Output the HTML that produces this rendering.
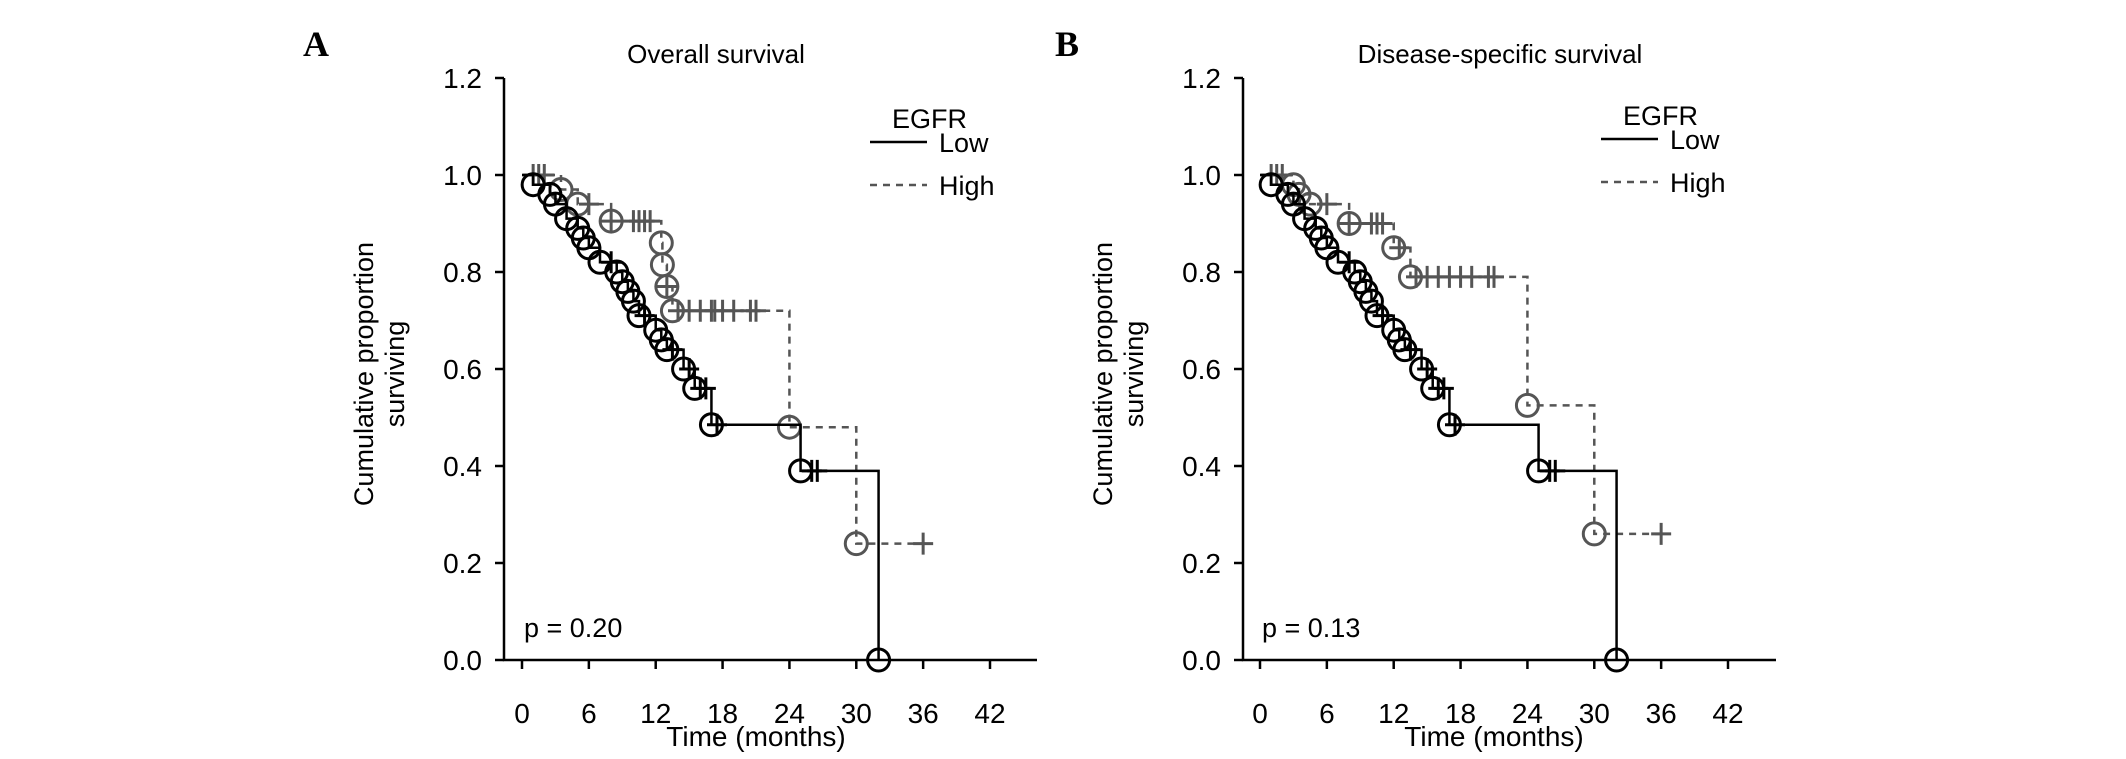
<!DOCTYPE html>
<html><head><meta charset="utf-8">
<style>
html,body{margin:0;padding:0;background:#fff;}
svg{display:block;}
</style></head>
<body>
<svg id="fig" width="2126" height="759" viewBox="0 0 2126 759" xmlns="http://www.w3.org/2000/svg" font-family="Liberation Sans, Arial, sans-serif"></svg>
<script>
// ---- Panel A: overall survival ----
const lowA_times  = [1,2.5,3,4,5,5.5,6,7,8.5,9,9.5,10,10.5,12,12.5,13,14.5,15.5,17,25,32];
const lowA_surv   = [0.98,0.96,0.94,0.91,0.89,0.87,0.85,0.82,0.80,0.78,0.76,0.74,0.71,0.68,0.66,0.64,0.60,0.56,0.485,0.39,0.0];
const lowA_cens   = [8,11,13.5,15,16,16.5,17.5,26,26.5];
const highA_times = [3.5,5,8,12.5,12.6,13,13.5,24,30];
const highA_surv  = [0.97,0.94,0.905,0.86,0.815,0.77,0.72,0.48,0.24];
const highA_cens  = [1,1.5,2,6,8,10,10.5,11,11.5,13,14,15,16,17,17.3,18,19,20.5,21,36];
// ---- Panel B: disease-specific survival ----
const lowB_times  = [1,2.5,3,4,5,5.5,6,7,8.5,9,9.5,10,10.5,12,12.5,13,14.5,15.5,17,25,32];
const lowB_surv   = [0.98,0.96,0.94,0.91,0.89,0.87,0.85,0.82,0.80,0.78,0.76,0.74,0.71,0.68,0.66,0.64,0.60,0.56,0.485,0.39,0.0];
const lowB_cens   = [8,11,13.5,15,16,16.5,17.5,26,26.5];
const highB_times = [3,3.5,4.5,8,12,13.5,24,30];
const highB_surv  = [0.98,0.96,0.94,0.90,0.85,0.79,0.525,0.26];
const highB_cens  = [1,1.5,2,6,8,10,10.5,11,12.5,14,15,16,17,18,19,20.5,21,36];
const xTicks = [0,6,12,18,24,30,36,42];
const yTicks = [0.0,0.2,0.4,0.6,0.8,1.0,1.2];

const NS="http://www.w3.org/2000/svg";
const svg=document.getElementById('fig');
const Y0=660, Y12=78;
function el(tag,attrs,parent){const e=document.createElementNS(NS,tag);for(const k in attrs)e.setAttribute(k,attrs[k]);(parent||svg).appendChild(e);return e;}

function panel(cfg){
  const g=el('g',{});
  
  
  const X=t=>cfg.x0+(cfg.x42-cfg.x0)*t/42;
  const Y=s=>Y0-(Y0-Y12)*s/1.2;
  const ax=el('path',{d:`M${cfg.axX} ${Y12} V${Y0} H${cfg.axR}`,stroke:'#000','stroke-width':2.5,fill:'none'},g);
  
  
  yTicks.forEach(v=>{
    el('line',{x1:cfg.axX-9,x2:cfg.axX,y1:Y(v),y2:Y(v),stroke:'#000','stroke-width':2.5},g);
    const t=el('text',{x:cfg.axX-22,y:Y(v)+10,'text-anchor':'end','font-size':28},g);
    t.textContent=v.toFixed(1);
    
    
  });
  xTicks.forEach(v=>{
    el('line',{x1:X(v),x2:X(v),y1:Y0,y2:Y0+9,stroke:'#000','stroke-width':2.5},g);
    const t=el('text',{x:X(v),y:723,'text-anchor':'middle','font-size':28},g);
    t.textContent=v;
    
    
  });
  const xl=el('text',{x:(X(0)+X(42))/2,y:746,'text-anchor':'middle','font-size':28},g);
  xl.textContent='Time (months)';
  
  
  const yl=el('text',{transform:`translate(${cfg.axX-131},${cfg.ylY}) rotate(-90)`,'text-anchor':'middle','font-size':27},g);
  
  
  const t1=el('tspan',{x:0,y:0},yl);t1.textContent='Cumulative proportion';
  const t2=el('tspan',{x:0,y:31},yl);t2.textContent='surviving';
  const tt=el('text',{x:cfg.titleX,y:63,'text-anchor':'middle','font-size':26},g);
  tt.textContent=cfg.title;
  
  
  const pl=el('text',{x:X(0)+2,y:637,'font-size':27},g);
  pl.textContent=cfg.p;
  
  
  const lab=el('text',{x:cfg.labX,y:56,'font-size':36,'font-weight':'bold','font-family':'Liberation Serif, serif'},svg);
  lab.textContent=cfg.label;
  
  
  const lg=el('g',{},g);
  
  
  const lx=cfg.legX, ly=cfg.legY;
  const le=el('text',{x:lx+22,y:ly,'font-size':27},lg);le.textContent='EGFR';
  el('line',{x1:lx,x2:lx+57,y1:ly+14,y2:ly+14,stroke:'#000','stroke-width':2.5},lg);
  const lo=el('text',{x:lx+69,y:ly+24,'font-size':27},lg);lo.textContent='Low';
  
  
  el('line',{x1:lx,x2:lx+57,y1:ly+57,y2:ly+57,stroke:'#555','stroke-width':2.5,'stroke-dasharray':'7,6'},lg);
  const hi=el('text',{x:lx+69,y:ly+67,'font-size':27},lg);hi.textContent='High';
  
  

  function curve(times,surv,cens,endT,color,dash,name){
    const cg=el('g',{},g);
    
    
    let d=`M${X(0)} ${Y(1)}`;
    times.forEach((t,i)=>{d+=` H${X(t)} V${Y(surv[i])}`;});
    if(endT>times[times.length-1]) d+=` H${X(endT)}`;
    const p=el('path',{d,stroke:color,'stroke-width':2.5,fill:'none'},cg);
    if(dash)p.setAttribute('stroke-dasharray','7,6');
    
    
    const sAt=t=>{let v=1;times.forEach((tt,i)=>{if(tt<=t)v=surv[i];});return v;};
    times.forEach((t,i)=>{
      const c=el('circle',{cx:X(t),cy:Y(surv[i]),r:11,stroke:color,'stroke-width':3,fill:'none'},cg);
      
      
    });
    cens.forEach(t=>{
      const v=sAt(t);
      const m=el('path',{d:`M${X(t)-10} ${Y(v)} H${X(t)+10} M${X(t)} ${Y(v)-11} V${Y(v)+11}`,stroke:color,'stroke-width':3,fill:'none'},cg);
      
      
    });
  }
  curve(cfg.hT,cfg.hS,cfg.hC,36,'#555',true,'high-egfr-series');
  curve(cfg.lT,cfg.lS,cfg.lC,32,'#000',false,'low-egfr-series');
}

panel({name:'panel-a-overall-survival',label:'A',labX:303,axX:504,axR:1037,x0:522,x42:990,ylY:374,
  title:'Overall survival',titleX:716,p:'p = 0.20',legX:870,legY:128,
  lT:lowA_times,lS:lowA_surv,lC:lowA_cens,hT:highA_times,hS:highA_surv,hC:highA_cens});
panel({name:'panel-b-disease-specific-survival',label:'B',labX:1055,axX:1243,axR:1776,x0:1260,x42:1728,ylY:374,
  title:'Disease-specific survival',titleX:1500,p:'p = 0.13',legX:1601,legY:125,
  lT:lowB_times,lS:lowB_surv,lC:lowB_cens,hT:highB_times,hS:highB_surv,hC:highB_cens});
</script>
</body></html>
